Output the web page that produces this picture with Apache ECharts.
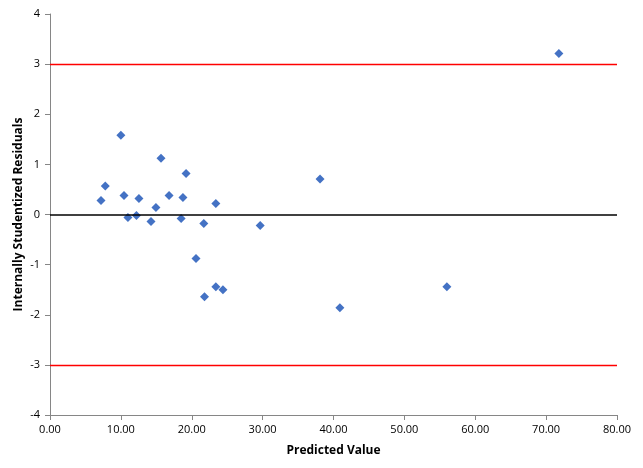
<!DOCTYPE html>
<html>
<head>
<meta charset="utf-8">
<script src="https://cdn.jsdelivr.net/npm/echarts@6/dist/echarts.min.js"></script>
<style>
html,body{margin:0;padding:0;background:#fff;}
#c{width:643px;height:468px;}
</style>
</head>
<body>
<div id="c"></div>
<script>
var predicted = [10.0, 15.66, 19.2, 7.8, 7.2, 10.44, 12.55, 16.8, 18.76, 23.4, 14.95, 11.0, 12.2, 14.25, 18.5, 21.7, 29.66, 20.6, 23.4, 24.4, 21.8, 38.1, 56.0, 40.9, 71.8];
var residuals = [1.58, 1.12, 0.82, 0.57, 0.28, 0.38, 0.32, 0.38, 0.34, 0.22, 0.14, -0.06, -0.02, -0.14, -0.08, -0.18, -0.22, -0.88, -1.44, -1.50, -1.64, 0.71, -1.44, -1.86, 3.21];
var limitLines = [3, -3];
var zeroLine = [0];
var xTitle = 'Predicted Value';
var yTitle = 'Internally Studentized Residuals';

var pts = predicted.map(function(x, i){ return [x, residuals[i]]; });
var font = 'Open Sans, Noto Sans, sans-serif';
var chart = echarts.init(document.getElementById('c'), null, {renderer:'canvas'});
chart.setOption({
  animation: false,
  backgroundColor: '#fff',
  grid: {left: 50, right: 26, top: 14, bottom: 53},
  xAxis: {
    type: 'value', min: 0, max: 80, interval: 10,
    name: xTitle, nameLocation: 'middle', nameGap: 30,
    nameTextStyle: {fontFamily: font, fontSize: 12, fontWeight: 'bold', color: '#000'},
    axisLine: {onZero: false, lineStyle: {color: '#868686', width: 1}},
    axisTick: {show: true, length: 5, lineStyle: {color: '#868686'}},
    axisLabel: {margin: 9, fontFamily: font, fontSize: 11, color: '#000', formatter: function(v){ return v.toFixed(2); }},
    splitLine: {show: false}
  },
  yAxis: {
    type: 'value', min: -4, max: 4, interval: 1,
    name: yTitle, nameLocation: 'middle', nameGap: 25, nameRotate: 90,
    nameMoveOverlap: false,
    nameTextStyle: {fontFamily: font, fontSize: 12, fontWeight: 'bold', color: '#000'},
    axisLine: {show: true, lineStyle: {color: '#868686', width: 1}},
    axisTick: {show: true, length: 5, lineStyle: {color: '#868686'}},
    axisLabel: {margin: 10, fontFamily: font, fontSize: 11, color: '#000'},
    splitLine: {show: false}
  },
  series: [{
    type: 'scatter',
    data: pts,
    symbol: 'diamond',
    symbolSize: 9,
    itemStyle: {color: '#4472C4', opacity: 1},
    silent: true,
    markLine: {
      silent: true,
      symbol: ['none','none'],
      label: {show: false},
      animation: false,
      data: limitLines.map(function(v){ return {yAxis: v, lineStyle: {color: '#FF0000', width: 1.3, type: 'solid'}}; })
        .concat(zeroLine.map(function(v){ return {yAxis: v, lineStyle: {color: '#000000', width: 1.5, type: 'solid'}}; }))
    }
  }]
});
</script>
</body>
</html>
